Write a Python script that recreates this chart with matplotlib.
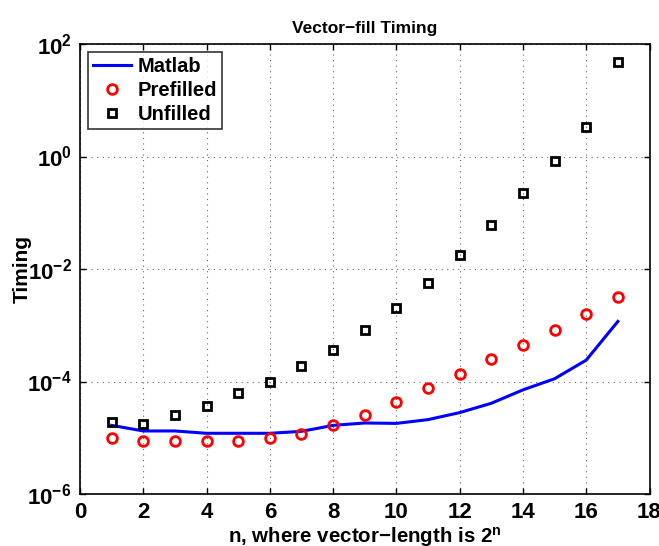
import matplotlib
matplotlib.use("Agg")
import matplotlib.pyplot as plt

n = list(range(1, 18))
matlab = [1.66e-5, 1.32e-5, 1.32e-5, 1.2e-5, 1.2e-5, 1.2e-5, 1.3e-5, 1.66e-5, 1.83e-5,
          1.8e-5, 2.1e-5, 2.8e-5, 4.1e-5, 7.1e-5, 1.12e-4, 2.4e-4, 1.17e-3]
prefilled = [1.0e-5, 8.9e-6, 8.9e-6, 8.9e-6, 8.9e-6, 1.0e-5, 1.17e-5, 1.7e-5, 2.5e-5,
             4.3e-5, 7.8e-5, 1.38e-4, 2.5e-4, 4.4e-4, 8.3e-4, 1.6e-3, 3.2e-3]
unfilled = [1.9e-5, 1.75e-5, 2.5e-5, 3.6e-5, 6.3e-5, 1.0e-4, 1.9e-4, 3.6e-4, 8.3e-4,
            2.0e-3, 5.6e-3, 1.8e-2, 6.0e-2, 0.22, 0.83, 3.3, 48]

xticks = list(range(0, 19, 2))
yticks = [1e-6, 1e-4, 1e-2, 1e0, 1e2]

plt.rcParams['font.family'] = ['Liberation Sans', 'DejaVu Sans']
plt.rcParams['font.weight'] = 'bold'
plt.rcParams['mathtext.fontset'] = 'custom'
plt.rcParams['mathtext.rm'] = 'Liberation Sans:bold'
plt.rcParams['mathtext.it'] = 'Liberation Sans:bold'
plt.rcParams['mathtext.bf'] = 'Liberation Sans:bold'
plt.rcParams['mathtext.default'] = 'bf'

fig = plt.figure(figsize=(6.59, 5.46), dpi=100)
ax = fig.add_axes([80/659, 52/546, 569.5/659, 450/546])

ax.plot(n, matlab, color='#0000ff', lw=2.2, label='Matlab')
ax.plot(n, prefilled, linestyle='none', marker='o', ms=7, mfc='none', mec='#ff0000', mew=2, label='Prefilled')
ax.plot(n, unfilled, linestyle='none', marker='s', ms=5.5, mfc='none', mec='black', mew=2, label='Unfilled')

ax.set_yscale('log')
ax.set_xlim(0, 18)
ax.set_ylim(1e-6, 1e2)
ax.set_xticks(xticks)
ax.set_xticklabels([str(t) for t in xticks])
ax.set_yticks(yticks)
ax.set_yticklabels([r'$10^{-6}$', r'$10^{-4}$', r'$10^{-2}$', r'$10^{0}$', r'$10^{2}$'])
ax.minorticks_off()
ax.tick_params(direction='in', length=4, width=1, labelsize=16, top=True, right=True, pad=6)
for lab in ax.get_xticklabels() + ax.get_yticklabels():
    lab.set_fontweight('bold')
ax.grid(True, which='major', linestyle=(0, (1, 4)), color='#666666', lw=0.8)
for s in ax.spines.values():
    s.set_linewidth(1.2)

ax.set_title('Vector\u2212fill Timing', fontsize=12.5, fontweight='bold', pad=8)
ax.set_xlabel(r'n, where vector$-$length is 2$^{\mathbf{n}}$', fontsize=14.8, fontweight='bold', labelpad=1)
ax.set_ylabel('Timing', fontsize=15, fontweight='bold', labelpad=-3)

leg = ax.legend(loc='upper left', fontsize=14.5, frameon=True, fancybox=False, edgecolor='black',
                borderaxespad=0.4, handlelength=1.9, labelspacing=0.25, borderpad=0.25, handletextpad=0.3)
leg.get_frame().set_linewidth(1.2)
for t in leg.get_texts():
    t.set_fontweight('bold')

fig.savefig('out.png', dpi=100)
